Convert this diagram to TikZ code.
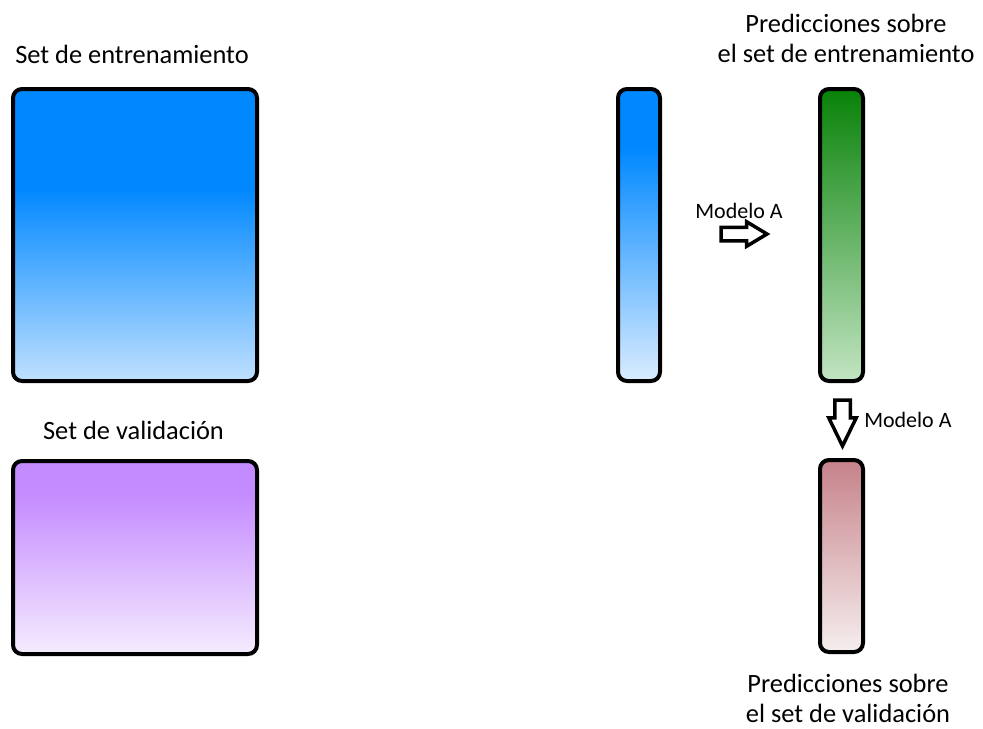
\documentclass[tikz,border=0pt]{standalone}
\usepackage{fontspec}
\setmainfont{Carlito}
\usetikzlibrary{shapes.arrows}

% one drawing unit
\newlength{\px}
\setlength{\px}{0.75pt}

\definecolor{trainhi}{RGB}{0,136,255}
\definecolor{trainlo}{RGB}{192,224,255}
\definecolor{colhi}{RGB}{0,136,255}
\definecolor{collo}{RGB}{218,236,255}
\definecolor{valhi}{RGB}{196,138,255}
\definecolor{vallo}{RGB}{245,236,254}
\definecolor{greenhi}{RGB}{8,130,8}
\definecolor{greenlo}{RGB}{194,228,194}
\definecolor{redhi}{RGB}{198,130,138}
\definecolor{redlo}{RGB}{246,238,238}

% vertical shadings: 25bp = bottom edge, 75bp = top edge of the filled shape
\pgfdeclareverticalshading{trainshade}{100bp}{color(0bp)=(trainlo); color(25bp)=(trainlo); color(58bp)=(trainhi); color(100bp)=(trainhi)}
\pgfdeclareverticalshading{colshade}{100bp}{color(0bp)=(collo); color(25bp)=(collo); color(65bp)=(colhi); color(100bp)=(colhi)}
\pgfdeclareverticalshading{valshade}{100bp}{color(0bp)=(vallo); color(25bp)=(vallo); color(67bp)=(valhi); color(100bp)=(valhi)}
\pgfdeclareverticalshading{greenshade}{100bp}{color(0bp)=(greenlo); color(25bp)=(greenlo); color(75bp)=(greenhi); color(100bp)=(greenhi)}
\pgfdeclareverticalshading{redshade}{100bp}{color(0bp)=(redlo); color(25bp)=(redlo); color(75bp)=(redhi); color(100bp)=(redhi)}

\tikzset{
  databox/.style={draw=black, line width=4\px, rounded corners=9\px,
    inner sep=0pt, outer sep=0pt, shade},
  title/.style={font=\fontsize{19.8}{22.5}\selectfont, inner sep=0pt, anchor=base, align=center},
  modeltext/.style={font=\fontsize{16.5}{19}\selectfont, inner sep=0pt, anchor=base},
  blockarrow/.style={single arrow, draw=black, fill=white, line width=3.5\px,
    inner xsep=0pt, outer sep=0pt, single arrow head indent=0pt, anchor=tip},
}

\begin{document}
\begin{tikzpicture}[x=1\px, y=-1\px]
\useasboundingbox (0,0) rectangle (983,729);

% data sets
\node[databox, shading=trainshade, minimum width=244\px, minimum height=292\px] (train) at (135,235) {};
\node[databox, shading=valshade, minimum width=244\px, minimum height=193\px] (val) at (135,557.5) {};

% single column taken from the training set and its predictions
\node[databox, shading=colshade, minimum width=42\px, minimum height=292\px] (col) at (639,235) {};
\node[databox, shading=greenshade, minimum width=43\px, minimum height=292\px] (predtrain) at (841.5,235) {};
\node[databox, shading=redshade, minimum width=43\px, minimum height=192\px] (predval) at (841.5,556) {};

% titles (multi-line nodes sit on the baseline of their last line)
\node[title] (ttrain) at (132,63) {Set de entrenamiento};
\node[title] (tval) at (133.5,439) {Set de validación};
\node[title] (tpredtrain) at (846,62) {Predicciones sobre\\el set de entrenamiento};
\node[title] (tpredval) at (848,722) {Predicciones sobre\\el set de validación};

% model applications
\node[blockarrow, inner ysep=5\px, single arrow head extend=5.5\px,
  single arrow tip angle=62, minimum height=46\px] (arrA) at (767,234) {};
\node[modeltext] (mA) at (739,218) {Modelo A};
\node[blockarrow, rotate=-90, inner ysep=6\px, single arrow head extend=6\px,
  single arrow tip angle=52, minimum height=46\px] (arrB) at (842.5,446) {};
\node[modeltext, anchor=base west] (mB) at (864,427) {Modelo A};
\end{tikzpicture}
\end{document}
